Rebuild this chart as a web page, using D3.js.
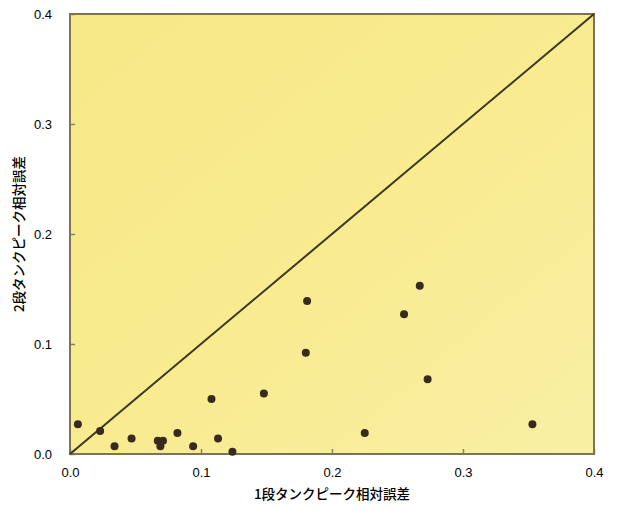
<!DOCTYPE html>
<html>
<head>
<meta charset="utf-8">
<script src="https://cdn.jsdelivr.net/npm/d3@7"></script>
<style>
  html, body { margin: 0; padding: 0; background: #ffffff; }
  svg { display: block; }
</style>
</head>
<body>
<svg id="chart" width="618" height="510"></svg>
<script>
// Relative peak error: 1-stage tank (x) vs 2-stage tank (y)
const xValues = [0.006, 0.023, 0.034, 0.047, 0.067, 0.071, 0.069, 0.082, 0.094, 0.108, 0.113, 0.124, 0.148, 0.180, 0.181, 0.225, 0.255, 0.267, 0.273, 0.353];
const yValues = [0.027, 0.021, 0.007, 0.014, 0.012, 0.012, 0.007, 0.019, 0.007, 0.050, 0.014, 0.002, 0.055, 0.092, 0.139, 0.019, 0.127, 0.153, 0.068, 0.027];
const tickValues = [0.0, 0.1, 0.2, 0.3, 0.4];
const tickLabels = ["0.0", "0.1", "0.2", "0.3", "0.4"];
const xTitle = "1段タンクピーク相対誤差";
const yTitle = "2段タンクピーク相対誤差";

const svg = d3.select("#chart");
const margin = { left: 70, top: 14, right: 24, bottom: 56 };
const W = 618, H = 510;
const pw = W - margin.left - margin.right;
const ph = H - margin.top - margin.bottom;

const x = d3.scaleLinear().domain([0, 0.4]).range([margin.left, margin.left + pw]);
const y = d3.scaleLinear().domain([0, 0.4]).range([margin.top + ph, margin.top]);

// plot background
const defs = svg.append("defs");
const grad = defs.append("linearGradient").attr("id", "bg")
  .attr("x1", "0").attr("y1", "0").attr("x2", "1").attr("y2", "1");
grad.append("stop").attr("offset", "0%").attr("stop-color", "#f7e987");
grad.append("stop").attr("offset", "50%").attr("stop-color", "#f8eb90");
grad.append("stop").attr("offset", "100%").attr("stop-color", "#f9efa4");

svg.append("rect")
  .attr("x", margin.left).attr("y", margin.top)
  .attr("width", pw).attr("height", ph)
  .attr("fill", "url(#bg)");

// axes with inward ticks
const fmt = (d) => tickLabels[tickValues.indexOf(d)];
const xAxis = d3.axisBottom(x).tickValues(tickValues).tickSize(-5).tickFormat(fmt).tickPadding(14);
const yAxis = d3.axisLeft(y).tickValues(tickValues).tickSize(-5).tickFormat(fmt).tickPadding(18);

const gx = svg.append("g").attr("transform", `translate(0,${margin.top + ph})`).call(xAxis);
const gy = svg.append("g").attr("transform", `translate(${margin.left},0)`).call(yAxis);
[gx, gy].forEach(g => {
  g.select(".domain").remove();
  g.selectAll(".tick line").attr("stroke", "#8a8060").attr("stroke-width", 1.5);
  g.selectAll(".tick text")
    .attr("font-family", "'Liberation Sans', Arial, sans-serif")
    .attr("font-size", 13)
    .attr("fill", "#000");
});
gy.selectAll(".tick text").attr("dy", "0.32em");

// frame
svg.append("rect")
  .attr("x", margin.left).attr("y", margin.top)
  .attr("width", pw).attr("height", ph)
  .attr("fill", "none")
  .attr("stroke", "#7d7455").attr("stroke-width", 2);

// 1:1 line
svg.append("line")
  .attr("x1", x(0)).attr("y1", y(0))
  .attr("x2", x(0.4)).attr("y2", y(0.4))
  .attr("stroke", "#3e3520").attr("stroke-width", 2);

// points
const pts = xValues.map((v, i) => ({ x: v, y: yValues[i] }));
svg.append("g").selectAll("circle").data(pts).join("circle")
  .attr("cx", d => x(d.x)).attr("cy", d => y(d.y))
  .attr("r", 4)
  .attr("fill", "#3a2a1c");

// axis titles
svg.append("text")
  .attr("x", x(0.2)).attr("y", 499)
  .attr("text-anchor", "middle")
  .attr("font-family", "'Noto Sans CJK JP', sans-serif")
  .attr("font-size", 13.5)
  .attr("font-weight", 500)
  .attr("fill", "#000")
  .text(xTitle);

svg.append("text")
  .attr("transform", `translate(24,${y(0.2)}) rotate(-90)`)
  .attr("text-anchor", "middle")
  .attr("font-family", "'Noto Sans CJK JP', sans-serif")
  .attr("font-size", 13.5)
  .attr("font-weight", 500)
  .attr("fill", "#000")
  .text(yTitle);
</script>
</body>
</html>
